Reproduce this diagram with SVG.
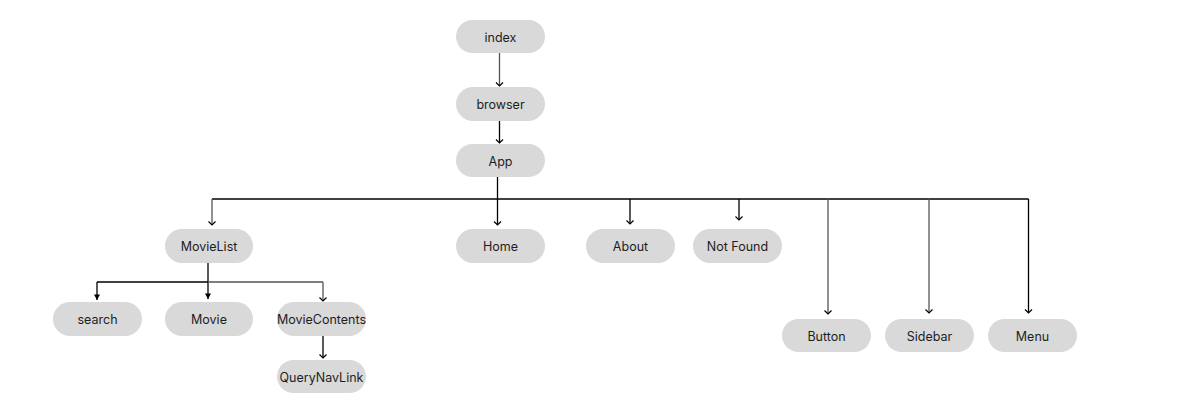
<svg xmlns="http://www.w3.org/2000/svg" width="1190" height="400" viewBox="0 0 1190 400">
<defs>
<marker id="open" markerWidth="10" markerHeight="10" refX="7" refY="5" orient="auto" markerUnits="userSpaceOnUse" viewBox="0 0 10 10">
<path d="M3.5 1.5 L7 5 L3.5 8.5" fill="none" stroke="#000" stroke-width="1.2"/>
</marker>
<marker id="filled" markerWidth="10" markerHeight="10" refX="7" refY="5" orient="auto" markerUnits="userSpaceOnUse" viewBox="0 0 10 10">
<path d="M1.5 2 L7 5 L1.5 8 Z" fill="#000"/>
</marker>
</defs>
<style>
.pill{fill:#d9d9d9;}
.lbl{font-family:Inter,"Noto Sans",sans-serif;font-size:12.5px;fill:#1e1e1e;text-anchor:middle;dominant-baseline:central;}
.c{fill:none;stroke:#000;stroke-width:1.3;}
.g{stroke:#555;}
</style>
<rect width="1190" height="400" fill="#fff"/>
<g id="connectors">
<path class="c g" d="M499.5 53 V86" marker-end="url(#open)"/>
<path class="c" d="M499.5 121 V143" marker-end="url(#open)"/>
<path class="c" d="M497.5 177 V199"/>
<path class="c" d="M212 199 H1028.5"/>
<path class="c g" d="M212 199 V225" marker-end="url(#open)"/>
<path class="c" d="M497.5 199 V225" marker-end="url(#open)"/>
<path class="c" d="M630 199 V224" marker-end="url(#open)"/>
<path class="c" d="M739 199 V220" marker-end="url(#open)"/>
<path class="c g" d="M828 199 V314" marker-end="url(#open)"/>
<path class="c g" d="M929 199 V313" marker-end="url(#open)"/>
<path class="c" d="M1028.5 199 V313" marker-end="url(#open)"/>
<path class="c" d="M208 263 V299" marker-end="url(#filled)"/>
<path class="c" d="M97 282 H208"/>
<path class="c g" d="M208 282 H323"/>
<path class="c" d="M97 282 V300" marker-end="url(#filled)"/>
<path class="c g" d="M323 282 V301" marker-end="url(#open)"/>
<path class="c" d="M323 336 V358" marker-end="url(#open)"/>
</g>
<g id="node-index"><rect class="pill" x="456" y="20" width="89" height="33" rx="16.5"/><text class="lbl" x="500.5" y="37">index</text></g>
<g id="node-browser"><rect class="pill" x="456" y="87" width="89" height="34" rx="17"/><text class="lbl" x="500.5" y="104">browser</text></g>
<g id="node-app"><rect class="pill" x="456" y="144" width="89" height="33" rx="16.5"/><text class="lbl" x="500.5" y="161">App</text></g>
<g id="node-movielist"><rect class="pill" x="165" y="229" width="88" height="34" rx="17"/><text class="lbl" x="209" y="246">MovieList</text></g>
<g id="node-home"><rect class="pill" x="456" y="229" width="89" height="34" rx="17"/><text class="lbl" x="500.5" y="246">Home</text></g>
<g id="node-about"><rect class="pill" x="586" y="229" width="89" height="34" rx="17"/><text class="lbl" x="630.5" y="246">About</text></g>
<g id="node-notfound"><rect class="pill" x="693" y="229" width="89" height="34" rx="17"/><text class="lbl" x="737.5" y="246">Not Found</text></g>
<g id="node-search"><rect class="pill" x="53" y="302" width="89" height="34" rx="17"/><text class="lbl" x="97.5" y="319">search</text></g>
<g id="node-movie"><rect class="pill" x="165" y="302" width="88" height="34" rx="17"/><text class="lbl" x="209" y="319">Movie</text></g>
<g id="node-moviecontents"><rect class="pill" x="277" y="302" width="89" height="34" rx="17"/><text class="lbl" x="321.5" y="319">MovieContents</text></g>
<g id="node-querynavlink"><rect class="pill" x="277" y="360" width="89" height="33" rx="16.5"/><text class="lbl" x="321.5" y="377">QueryNavLink</text></g>
<g id="node-button"><rect class="pill" x="782" y="319" width="89" height="33" rx="16.5"/><text class="lbl" x="826.5" y="336">Button</text></g>
<g id="node-sidebar"><rect class="pill" x="885" y="319" width="89" height="33" rx="16.5"/><text class="lbl" x="929.5" y="336">Sidebar</text></g>
<g id="node-menu"><rect class="pill" x="988" y="319" width="89" height="33" rx="16.5"/><text class="lbl" x="1032.5" y="336">Menu</text></g>
</svg>
